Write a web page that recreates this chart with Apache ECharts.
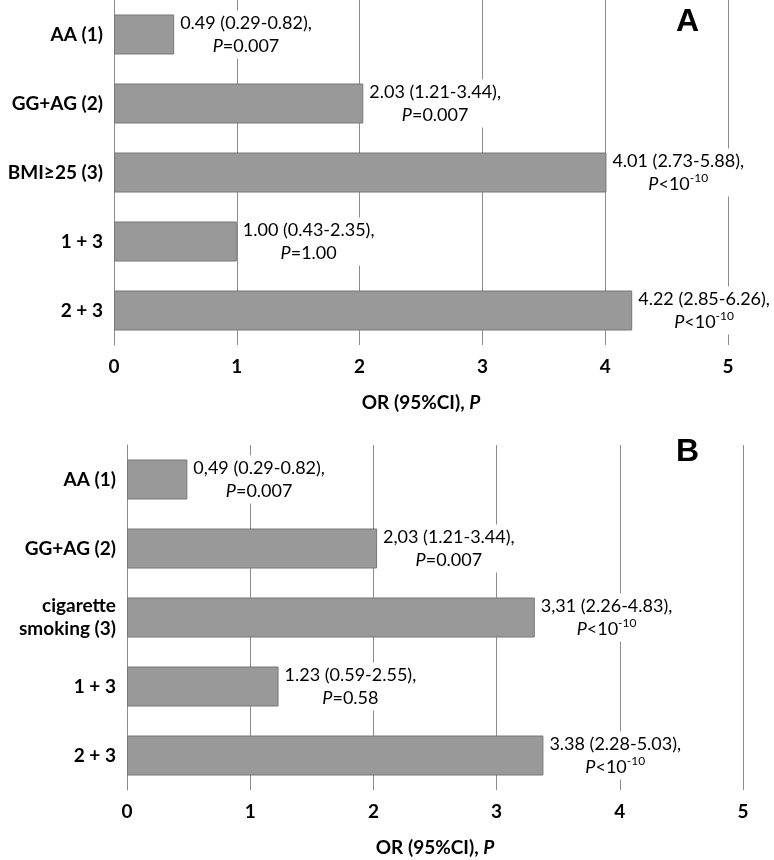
<!DOCTYPE html>
<html>
<head>
<meta charset="utf-8">
<script src="https://cdn.jsdelivr.net/npm/echarts@6/dist/echarts.min.js"></script>
<style>
html,body{margin:0;padding:0;background:#fff;}
#chart{width:774px;height:860px;}
</style>
</head>
<body>
<div id="chart"></div>
<script>
// ---- Data ----
const categoriesA = ['AA (1)', 'GG+AG (2)', 'BMI≥25 (3)', '1 + 3', '2 + 3'];
const valuesA = [0.49, 2.03, 4.01, 1.00, 4.22];
const orTextA = ['0.49 (0.29-0.82),', '2.03 (1.21-3.44),', '4.01 (2.73-5.88),', '1.00 (0.43-2.35),', '4.22 (2.85-6.26),'];
const pTextA = ['=0.007', '=0.007', '<10^-10', '=1.00', '<10^-10'];

const categoriesB = ['AA (1)', 'GG+AG (2)', 'cigarette\nsmoking (3)', '1 + 3', '2 + 3'];
const valuesB = [0.49, 2.03, 3.31, 1.23, 3.38];
const orTextB = ['0,49 (0.29-0.82),', '2,03 (1.21-3.44),', '3,31 (2.26-4.83),', '1.23 (0.59-2.55),', '3.38 (2.28-5.03),'];
const pTextB = ['=0.007', '=0.007', '<10^-10', '=0.58', '<10^-10'];

const xTicks = [0, 1, 2, 3, 4, 5];
const axisTitle = 'OR (95%CI), ';

// ---- Helpers ----
const FONT = 'Lato';
function pRich(p) {
  if (p.indexOf('^') >= 0) {
    const parts = p.split('^');
    return '{i|P}{t|' + parts[0] + '}{s|' + parts[1] + '}';
  }
  return '{i|P}{t|' + p + '}';
}
function makeData(values, orText, pText) {
  return values.map((v, i) => ({
    value: v,
    label: { formatter: '{t|' + orText[i] + '}\n' + pRich(pText[i]) }
  }));
}
const richStyle = {
  t: { fontFamily: FONT, fontSize: 18, color: '#000', align: 'center', lineHeight: 23 },
  i: { fontFamily: FONT, fontSize: 18, color: '#000', fontStyle: 'italic', align: 'center', lineHeight: 23 },
  s: { fontFamily: FONT, fontSize: 12, color: '#000', align: 'center', verticalAlign: 'top', lineHeight: 13 }
};
const gridColor = '#8c8c8c';

function xAxisCfg(gridIndex, nameGap) {
  return {
    type: 'value', gridIndex: gridIndex, min: 0, max: 5, interval: 1,
    axisLine: { show: false }, axisTick: { show: false },
    splitLine: { show: true, lineStyle: { color: gridColor, width: 1 } },
    axisLabel: { fontFamily: FONT, fontWeight: 'bold', fontSize: 19, color: '#000', margin: 12,
      formatter: v => (xTicks.indexOf(v) >= 0 ? String(v) : '') },
    name: '{b|' + axisTitle + '}{bi|P}', nameLocation: 'middle', nameGap: 48,
    nameTextStyle: { rich: {
      b: { fontFamily: FONT, fontWeight: 'bold', fontSize: 19, color: '#000' },
      bi: { fontFamily: FONT, fontWeight: 'bold', fontStyle: 'italic', fontSize: 19, color: '#000' }
    } }
  };
}
function yAxisCfg(gridIndex, cats) {
  return {
    type: 'category', gridIndex: gridIndex, data: cats, inverse: true,
    axisLine: { show: true, lineStyle: { color: gridColor, width: 1 } },
    axisTick: { show: false },
    axisLabel: { fontFamily: FONT, fontWeight: 'bold', fontSize: 19, color: '#000', margin: 11, lineHeight: 23 }
  };
}
function seriesCfg(idx, values, orText, pText) {
  return {
    type: 'bar', xAxisIndex: idx, yAxisIndex: idx, barWidth: 40,
    data: makeData(values, orText, pText),
    itemStyle: { color: '#999999', borderColor: '#777777', borderWidth: 1 },
    label: { show: true, position: 'right', distance: 3, backgroundColor: '#fff', padding: [1, 3], rich: richStyle },
    silent: true, animation: false
  };
}

const chart = echarts.init(document.getElementById('chart'), null, { renderer: 'canvas' });
chart.setOption({
  animation: false,
  backgroundColor: '#fff',
  grid: [
    { left: 114, top: 0, width: 614, height: 345 },
    { left: 127, top: 445, width: 616, height: 345 }
  ],
  xAxis: [xAxisCfg(0), xAxisCfg(1)],
  yAxis: [yAxisCfg(0, categoriesA), yAxisCfg(1, categoriesB)],
  series: [seriesCfg(0, valuesA, orTextA, pTextA), seriesCfg(1, valuesB, orTextB, pTextB)],
  graphic: [
    { type: 'text', left: 676, top: 6, style: { text: 'A', font: 'bold 32px "Liberation Sans", Arial', fill: '#000' } },
    { type: 'text', left: 676, top: 436, style: { text: 'B', font: 'bold 32px "Liberation Sans", Arial', fill: '#000' } }
  ]
});
</script>
</body>
</html>
